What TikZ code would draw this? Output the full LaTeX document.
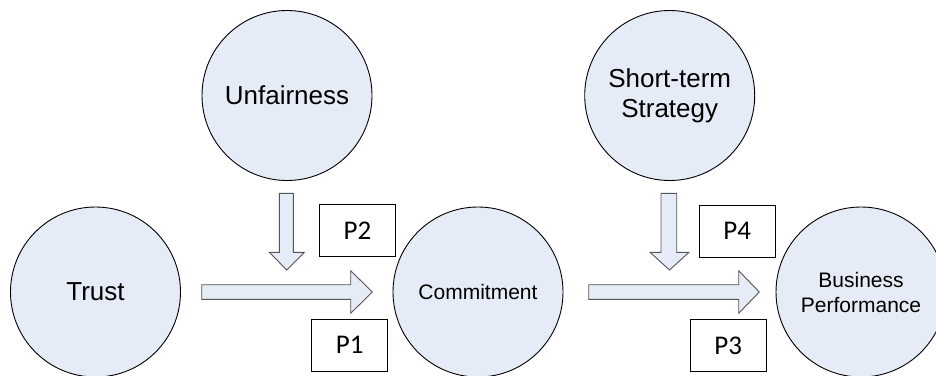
\documentclass[tikz,border=0pt]{standalone}
\usepackage{fontspec}
\setmainfont{Liberation Sans}
\newfontfamily\pfont{Carlito}
\definecolor{paleblue}{RGB}{230,236,247}
\definecolor{arrowline}{RGB}{85,85,85}

\begin{document}
\begin{tikzpicture}[x=1pt,y=-1pt,
    construct/.style={circle,draw=black,line width=0.9pt,fill=paleblue,minimum size=170pt,inner sep=0pt,align=center},
    bigtext/.style={font=\fontsize{26}{30}\selectfont},
    smalltext/.style={font=\fontsize{21}{25}\selectfont},
    propbox/.style={draw=black,line width=1.1pt,fill=white,minimum width=76pt,minimum height=52pt,inner sep=0pt,font=\pfont\fontsize{27}{30}\selectfont},
    blockarrow/.style={draw=arrowline,line width=0.9pt,fill=paleblue,line join=miter}]
      \useasboundingbox (0,0) rectangle (936,375);
      % constructs
      \node[construct,bigtext] at (95.5,292) (trust) {Trust};
      \node[construct,bigtext] at (287,95.5) (unfair) {Unfairness};
      \node[construct,smalltext] at (478,292) (commit) {Commitment};
      \node[construct,bigtext] at (669.7,95.5) (shortterm) {Short-term\\Strategy};
      \node[construct,smalltext] at (861,292) (busperf) {Business\\Performance};
      % block arrows
      \draw[blockarrow] (201.7,284.7) -- (350.7,284.7) -- (350.7,270.7) -- (372.3,292)
        -- (350.7,313.3) -- (350.7,299.3) -- (201.7,299.3) -- cycle;
      \draw[blockarrow] (279.3,193.3) -- (293.3,193.3) -- (293.3,252.3) -- (304.3,252.3)
        -- (286.8,270) -- (269.3,252.3) -- (279.3,252.3) -- cycle;
      \draw[blockarrow] (588.7,284.7) -- (738.7,284.7) -- (738.7,270.7) -- (759.3,292)
        -- (738.7,313.3) -- (738.7,299.3) -- (588.7,299.3) -- cycle;
      \draw[blockarrow] (661,193.3) -- (676.7,193.3) -- (676.7,252.3) -- (689,252.3)
        -- (669.5,270) -- (650,252.3) -- (661,252.3) -- cycle;
      % propositions
      \node[propbox] at (349.7,345.2) (p1) {P1};
      \node[propbox] at (357.5,230.3) (p2) {P2};
      \node[propbox] at (728.3,345.5) (p3) {P3};
      \node[propbox] at (737.3,231.2) (p4) {P4};
\end{tikzpicture}
\end{document}
